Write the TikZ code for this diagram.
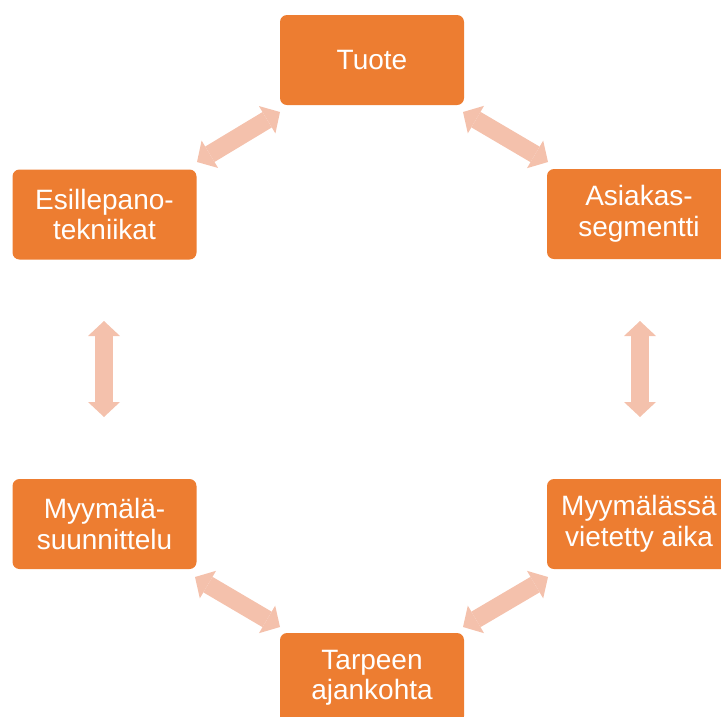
\documentclass[tikz,border=0pt]{standalone}
\usepackage{fontspec}
\setmainfont{Liberation Sans}
\usetikzlibrary{arrows.meta}
\definecolor{boxorange}{HTML}{ED7D31}
\definecolor{linkpink}{HTML}{F4C1AC}
\tikzset{
  box/.style={fill=boxorange, rounded corners=7pt, minimum width=184pt, minimum height=90pt,
    text=white, align=center, inner sep=0pt, font=\fontsize{28pt}{30.5pt}\selectfont},
  tipx/.tip={Triangle[width=32pt,length=15pt,line width=0pt]},
  link/.style={draw=linkpink, line width=18pt, tipx-tipx}
}
\begin{document}
\begin{tikzpicture}[x=1pt,y=-1pt]
\useasboundingbox (0,0) rectangle (721,716);
\clip (0,0) rectangle (721,716);
\node[box] (tuote) at (372,60) {Tuote};
\node[box] (esil) at (104.5,214.5) {Esillepano-\\tekniikat};
\node[box] (asiak) at (639,214) {Asiakas-\\segmentti};
\node[box] (suun) at (104.5,524) {Myymälä-\\suunnittelu};
\node[box] (aika) at (639,524) {Myymälässä\\vietetty aika};
\node[box] (tarve) at (372,678) {Tarpeen\\ajankohta};
\coordinate (a1s) at (197,162); \coordinate (a1e) at (280,112);
\coordinate (a2s) at (463,112); \coordinate (a2e) at (548,162);
\coordinate (a3s) at (104,321); \coordinate (a3e) at (104,417);
\coordinate (a4s) at (640,321); \coordinate (a4e) at (640,417);
\coordinate (a5s) at (195,577); \coordinate (a5e) at (280,627);
\coordinate (a6s) at (548,577); \coordinate (a6e) at (463,627);
\draw[link] (a1s) -- (a1e);
\draw[link] (a2s) -- (a2e);
\draw[link] (a3s) -- (a3e);
\draw[link] (a4s) -- (a4e);
\draw[link] (a5s) -- (a5e);
\draw[link] (a6s) -- (a6e);
\end{tikzpicture}
\end{document}
